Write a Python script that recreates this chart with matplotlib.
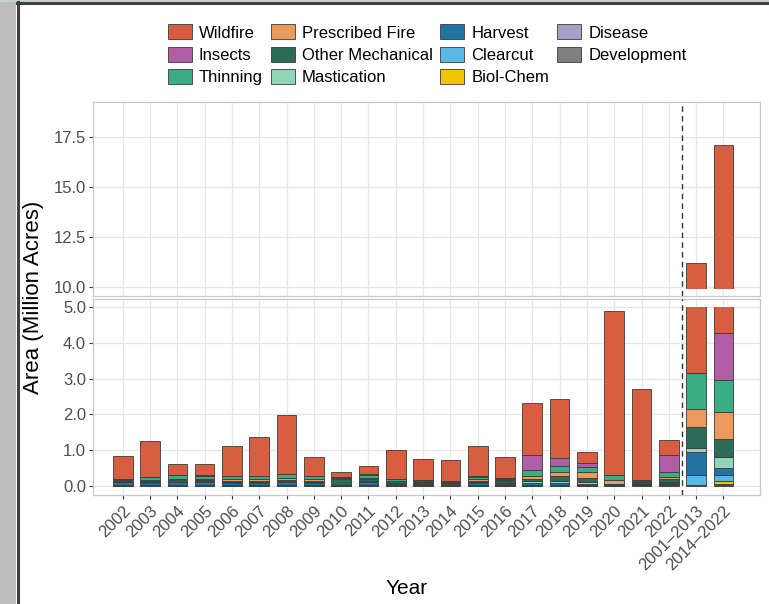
import numpy as np
import matplotlib.pyplot as plt
from matplotlib.patches import Rectangle
from matplotlib.lines import Line2D

plt.rcParams['font.family'] = ['Liberation Sans', 'DejaVu Sans']

# Categories on the x axis
years = [str(y) for y in range(2002, 2023)] + ['2001\u20132013', '2014\u20132022']

# Disturbance types, bottom of stack first
types = ['Development', 'Disease', 'Biol-Chem', 'Clearcut', 'Harvest', 'Mastication',
         'Other Mechanical', 'Prescribed Fire', 'Thinning', 'Insects', 'Wildfire']
colors = {
    'Wildfire': '#D95D41',
    'Insects': '#B05FA6',
    'Thinning': '#3AAE82',
    'Prescribed Fire': '#EB9A5C',
    'Other Mechanical': '#2B6B57',
    'Mastication': '#8FD6B8',
    'Harvest': '#1F74A0',
    'Clearcut': '#5BB8E6',
    'Biol-Chem': '#F2C300',
    'Disease': '#A8A0C8',
    'Development': '#7F7F7F',
}
legend_order = ['Wildfire', 'Insects', 'Thinning', 'Prescribed Fire', 'Other Mechanical',
                'Mastication', 'Harvest', 'Clearcut', 'Biol-Chem', 'Disease', 'Development']

# Area in million acres
development = [.01, .01, .01, .01, .01, .01, .01, .01, .01, .01, .01, .01, .01, .01, .01, .01, .01, .01, .01, .01, .01, .02, .02]
disease = [0, 0, 0, 0, 0, 0, 0, 0, 0, 0, 0, 0, 0, 0, 0, 0, 0, 0, 0, 0, .01, 0, .05]
biol_chem = [0, 0, 0, 0, 0, 0, 0, 0, 0, 0, 0, .01, .03, 0, 0, 0, 0, 0, 0, .01, .02, 0, .065]
clearcut = [.02, .02, .02, .02, .02, .02, .03, .02, 0, .02, .02, .01, .01, .03, .02, .03, .03, .02, .01, .01, .02, .28, .16]
harvest = [.07, .06, .07, .08, .06, .06, .07, .06, .01, .07, .04, .03, .02, .05, .04, .05, .05, .03, .02, .02, .02, .64, .20]
mastication = [.02, .01, .01, .02, .01, .01, .02, .02, .02, .04, .02, .02, .01, .02, .02, .04, .06, .04, 0, .01, .04, .12, .31]
other_mech = [.02, .04, .05, .04, .05, .05, .05, .04, .17, .05, .04, .04, .03, .04, .05, .07, .13, .13, .03, .03, .07, .59, .50]
prescribed = [.02, .03, .04, .04, .04, .04, .05, .04, .01, .04, .02, .03, .02, .04, .03, .08, .12, .17, .10, .03, .07, .51, .76]
thinning = [.05, .07, .10, .08, .08, .08, .11, .08, .02, .09, .04, .02, .01, .07, .04, .17, .16, .12, .14, .02, .12, .99, .89]
insects = [0, .01, .01, .02, .01, .01, .01, .01, .01, .01, 0, 0, 0, .01, .01, .43, .21, .13, 0, .03, .50, 0, 1.32]
wildfire = [.63, 1.02, .30, .30, .84, 1.10, 1.62, .54, .13, .24, .81, .58, .58, .85, .60, 1.43, 1.65, .31, 4.58, 2.53, .40, 8.08, 12.82]

series = {
    'Development': development, 'Disease': disease, 'Biol-Chem': biol_chem,
    'Clearcut': clearcut, 'Harvest': harvest, 'Mastication': mastication,
    'Other Mechanical': other_mech, 'Prescribed Fire': prescribed,
    'Thinning': thinning, 'Insects': insects, 'Wildfire': wildfire,
}

# y-axis break: lower panel shows up to 5, upper panel starts at 9.9
break_lo, break_hi = 5.0, 9.9

fig = plt.figure(figsize=(7.69, 6.04), dpi=100)
W, H = 769, 604


def px_axes(x0, y0, x1, y1):
    return fig.add_axes([x0 / W, 1 - y1 / H, (x1 - x0) / W, (y1 - y0) / H])


ax_top = px_axes(93, 102, 760, 296)
ax_bot = px_axes(93, 299, 760, 495)

x = np.arange(len(years))
grey_txt = '#4D4D4D'

for ax, (clo, chi) in ((ax_top, (break_hi, 100)), (ax_bot, (-1, break_lo))):
    clip = Rectangle((-5, clo), 40, chi - clo, transform=ax.transData)
    bottom = np.zeros(len(years))
    for t in types:
        vals = np.array(series[t])
        bars = ax.bar(x, vals, width=0.72, bottom=bottom, color=colors[t],
                      edgecolor='#3A3A3A', linewidth=0.6, zorder=3)
        for b in bars:
            b.set_clip_path(clip)
        bottom += vals
    ax.axvline(20.5, color='#333333', lw=1, linestyle=(0, (4, 3)), zorder=4)
    ax.set_xlim(-1.09, 23.34)
    ax.set_xticks(x)
    ax.grid(True, color='#E6E6E6', lw=0.9, zorder=0)
    ax.set_axisbelow(True)
    for s in ax.spines.values():
        s.set_color('#C8C8C8')
        s.set_linewidth(0.9)
    ax.tick_params(axis='y', colors='#333333', labelcolor=grey_txt, labelsize=12,
                   length=3, width=0.8, pad=2)

ax_top.set_ylim(9.56, 19.24)
ax_top.set_yticks([10, 12.5, 15, 17.5])
ax_top.set_yticklabels(['10.0', '12.5', '15.0', '17.5'])
ax_top.tick_params(axis='x', length=0, labelbottom=False)

ax_bot.set_ylim(-0.25, 5.22)
ax_bot.set_yticks([0, 1, 2, 3, 4, 5])
ax_bot.set_yticklabels(['0.0', '1.0', '2.0', '3.0', '4.0', '5.0'])
ax_bot.set_xticklabels(years, rotation=45, ha='right', rotation_mode='anchor')
ax_bot.tick_params(axis='x', colors='#333333', labelcolor=grey_txt, labelsize=12,
                   length=3, width=0.8, pad=3)

fig.text(34 / W, 1 - 297 / H, 'Area (Million Acres)', rotation=90, ha='center',
         va='center', fontsize=16)
fig.text(407 / W, 1 - 588 / H, 'Year', ha='center', va='center', fontsize=15)

handles = [Rectangle((0, 0), 1, 1, facecolor=colors[t], edgecolor='#3A3A3A', linewidth=0.6)
           for t in legend_order]
fig.legend(handles, legend_order, ncol=4, loc='upper center',
           bbox_to_anchor=(427 / W, 1 - 16 / H), frameon=False, fontsize=12,
           handlelength=1.44, handleheight=1.0, handletextpad=0.42,
           columnspacing=0.48, labelspacing=0.37, borderpad=0)

# screenshot window frame
fig.add_artist(Rectangle((0, 0), 16 / W, 1, transform=fig.transFigure,
                         facecolor='#BDBDBD', edgecolor='none'))
fig.add_artist(Rectangle((0, 1 - 2 / H), 1, 2 / H, transform=fig.transFigure,
                         facecolor='#C9D3CC', edgecolor='none'))
fig.add_artist(Line2D([18 / W, 18 / W], [0, 1 - 2 / H], transform=fig.transFigure,
                      color='#404040', lw=2.2))
fig.add_artist(Line2D([17 / W, 1], [1 - 3 / H, 1 - 3 / H], transform=fig.transFigure,
                      color='#404040', lw=2.2))

fig.savefig('out.png', dpi=100)
